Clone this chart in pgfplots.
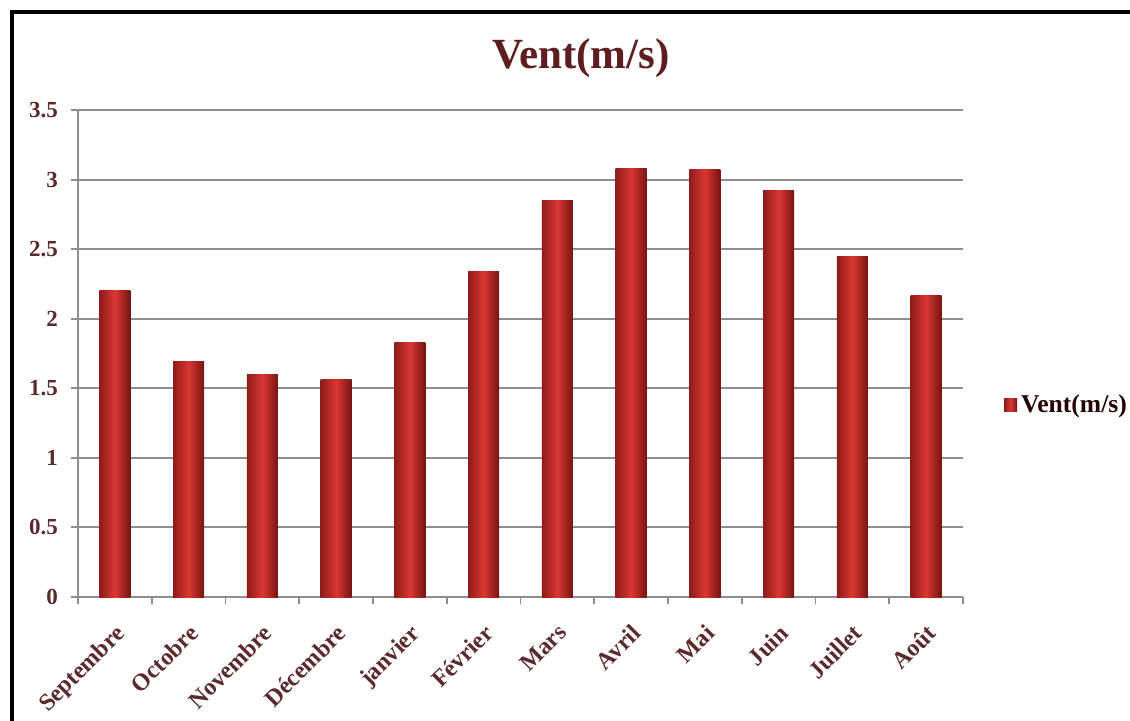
\documentclass[border=0pt]{standalone}
\usepackage{fontspec}
\setmainfont{Liberation Serif}
\usepackage{pgfplots}
\pgfplotsset{compat=1.18}
\definecolor{titlec}{HTML}{5E1E20}
\definecolor{tickc}{HTML}{5A2A2C}
\definecolor{gridc}{HTML}{8E8E8E}
\definecolor{barL}{HTML}{8E1B1B}
\definecolor{barM}{HTML}{DA3732}
\definecolor{barR}{HTML}{761414}
\pgfplotsset{vbar/.style={ybar, bar width=15.5pt, bar shift=0pt, draw=none, left color=barL, right color=barR, middle color=barM}}
\begin{document}
\begin{tikzpicture}
\useasboundingbox (0,0) rectangle (565pt,360pt);
\fill[white] (0,0) rectangle (565pt,360pt);
\begin{axis}[
  at={(39pt,61.5pt)}, anchor=south west,
  scale only axis, width=442.5pt, height=243.5pt,
  xmin=-0.5, xmax=11.5, ymin=0, ymax=3.5,
  axis lines=left, axis line style={-, gridc, line width=1pt},
  ytick={0,0.5,...,3.5},
  yticklabels={0,0.5,1,1.5,2,2.5,3,3.5},
  ymajorgrids, grid style={gridc, line width=1pt},
  xtick={0,...,11},
  xticklabels={Septembre,Octobre,Novembre,Décembre,janvier,Février,Mars,Avril,Mai,Juin,Juillet,Août},
  minor xtick={-0.5,0.5,...,11.5},
  tick align=outside,
  major x tick style={draw=none},
  minor x tick style={gridc, line width=0.8pt},
  major y tick style={gridc, line width=1pt},
  major tick length=3.5pt, minor tick length=3.5pt,
  yticklabel style={font=\fontsize{11.5}{13}\selectfont\bfseries, text=tickc, xshift=-3pt},
  xticklabel style={font=\fontsize{12}{14}\selectfont\bfseries, text=tickc, rotate=45, anchor=north east, xshift=-3.5pt, yshift=-3pt},
  legend style={at={(rel axis cs:1.046,0.394)}, anchor=west, draw=none, fill=none,
    font=\fontsize{12.8}{14}\selectfont\bfseries, text=black!85!red, inner sep=0pt},
  legend image code/.code={\fill[left color=barL, right color=barR, middle color=barM] (0pt,-3.2pt) rectangle (6.5pt,3.2pt);},
]
\addplot[vbar] coordinates {(0,2.20)};
\addlegendentry{Vent(m/s)}
\addplot[vbar, forget plot] coordinates {(1,1.69)};
\addplot[vbar, forget plot] coordinates {(2,1.60)};
\addplot[vbar, forget plot] coordinates {(3,1.56)};
\addplot[vbar, forget plot] coordinates {(4,1.83)};
\addplot[vbar, forget plot] coordinates {(5,2.34)};
\addplot[vbar, forget plot] coordinates {(6,2.85)};
\addplot[vbar, forget plot] coordinates {(7,3.08)};
\addplot[vbar, forget plot] coordinates {(8,3.07)};
\addplot[vbar, forget plot] coordinates {(9,2.92)};
\addplot[vbar, forget plot] coordinates {(10,2.45)};
\addplot[vbar, forget plot] coordinates {(11,2.17)};
\end{axis}
\node[font=\fontsize{21.5}{24}\selectfont\bfseries, text=titlec] at (290.5pt,331pt) {Vent(m/s)};
\draw[line width=2pt, black] (6pt,-2pt) -- (6pt,354pt) -- (567pt,354pt);
\end{tikzpicture}
\end{document}
